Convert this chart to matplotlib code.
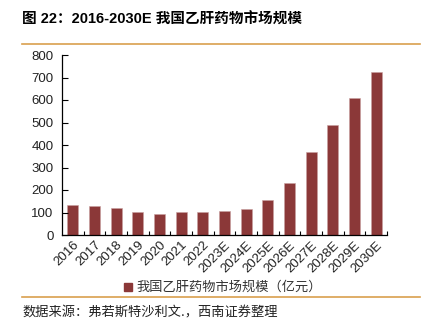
import matplotlib
matplotlib.use('Agg')
import matplotlib.pyplot as plt
from matplotlib.lines import Line2D

plt.rcParams['font.family'] = ['Liberation Sans', 'Noto Sans CJK SC', 'DejaVu Sans']

years = ['2016', '2017', '2018', '2019', '2020', '2021', '2022', '2023E',
         '2024E', '2025E', '2026E', '2027E', '2028E', '2029E', '2030E']
market = [133, 129, 120, 104, 95, 104, 104, 107, 116, 154, 229, 370, 487, 611, 724]
yticks = [0, 100, 200, 300, 400, 500, 600, 700, 800]

bar_color = '#8B3838'
line_color = '#D9A04E'

fig = plt.figure(figsize=(4.23, 3.34), dpi=100)
W, H = 423, 334
ax = fig.add_axes([62 / W, 1 - 235 / H, 325 / W, 180 / H])

x = list(range(len(years)))
ax.bar(x, market, width=0.5, color=bar_color, edgecolor='#C9A0A0', linewidth=0.4)
ax.set_xlim(-0.5, len(years) - 0.5)
ax.set_ylim(0, 800)
ax.set_yticks(yticks)
ax.set_yticklabels([str(v) for v in yticks], fontsize=9.5, color='#222222')

# ticks sit between categories, labels centred under bars
ax.set_xticks([i + 0.5 for i in x[:-1]] + [len(years) - 0.5])
ax.set_xticklabels([])
ax.set_xticks(x, minor=True)
ax.set_xticklabels(years, minor=True, rotation=45, ha='right', rotation_mode='anchor',
                   fontsize=9.5, color='#222222')
ax.tick_params(axis='x', which='minor', length=0, pad=3)
ax.tick_params(axis='x', which='major', direction='in', length=3, width=0.8)
ax.tick_params(axis='y', direction='in', length=4, width=0.8, pad=6)
for s in ['top', 'right']:
    ax.spines[s].set_visible(False)
ax.spines['left'].set_linewidth(0.9)
ax.spines['bottom'].set_linewidth(0.9)

fig.text(22 / W, 1 - 20 / H, '图 22：2016-2030E 我国乙肝药物市场规模', fontsize=10.5,
         fontweight='bold', va='center', ha='left',
         family=['Liberation Sans', 'Noto Sans CJK SC'])
fig.add_artist(Line2D([22 / W, 420 / W], [1 - 44 / H, 1 - 44 / H], color=line_color, lw=1.2))
fig.add_artist(Line2D([22 / W, 420 / W], [1 - 297 / H, 1 - 297 / H], color=line_color, lw=1.2))

# legend
fig.patches.append(plt.Rectangle((124 / W, 1 - 291 / H), 8 / W, 8 / H,
                                 transform=fig.transFigure, color=bar_color))
fig.text(136 / W, 1 - 287 / H, '我国乙肝药物市场规模（亿元）', fontsize=9.5,
         va='center', ha='left', color='#333333', family=['Noto Sans CJK SC'])

fig.text(22 / W, 1 - 313 / H, '数据来源：弗若斯特沙利文.，西南证券整理', fontsize=9.5,
         va='center', ha='left', color='#222222', style='italic',
         family=['Noto Sans CJK SC', 'DejaVu Sans'])

fig.savefig('out.png', dpi=100)
